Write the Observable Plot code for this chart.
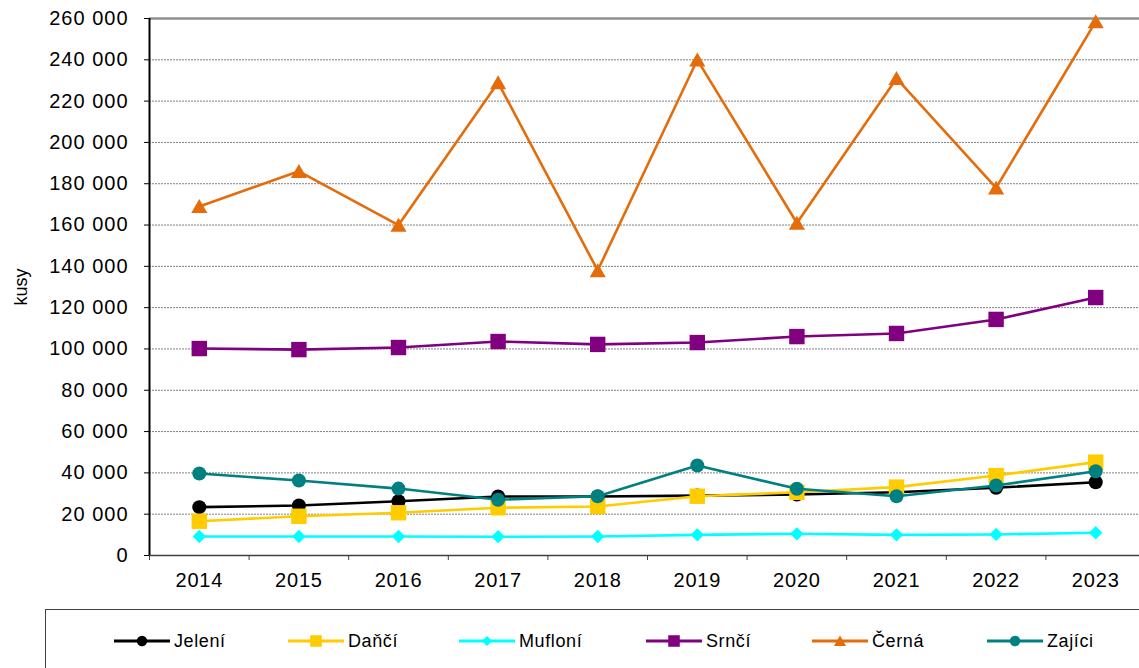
<!DOCTYPE html>
<html><head><meta charset="utf-8">
<script src="https://cdn.jsdelivr.net/npm/d3@7"></script>
<script src="https://cdn.jsdelivr.net/npm/@observablehq/plot@0.6"></script>
<style>
body{margin:0;overflow:hidden;background:#fff;font-family:"Liberation Sans",Arial,sans-serif;width:1139px;height:668px;position:relative;}
#chart{position:absolute;left:0;top:0;}
#chart svg{max-width:none !important;}
#chart g[aria-label="y-axis tick label"] text{letter-spacing:1px;}
#chart g[aria-label="x-axis tick label"] text{letter-spacing:0.8px;}
#legend{position:absolute;left:45px;top:609px;width:1105px;height:80px;border:1px solid #404040;box-sizing:border-box;background:#fff;}
.item{position:absolute;top:20px;height:22px;display:flex;align-items:center;font-size:18px;letter-spacing:0.6px;color:#000;}
.item svg{display:block;margin-right:4px;}
</style></head><body><div id="chart"></div><div id="legend"></div>
<script>
const years = [2014, 2015, 2016, 2017, 2018, 2019, 2020, 2021, 2022, 2023];
const jeleni  = [23400, 24200, 26300, 28600, 28600, 29000, 29500, 30600, 32800, 35500];
const danci   = [16600, 19000, 20700, 23100, 23700, 28700, 30600, 33100, 38700, 45200];
const mufloni = [9200, 9200, 9200, 9100, 9200, 10000, 10500, 10000, 10200, 11000];
const srnci   = [100200, 99700, 100700, 103600, 102200, 103100, 106000, 107500, 114300, 124900];
const cerna   = [169000, 186000, 160000, 229000, 138000, 240000, 161000, 231000, 178000, 258500];
const zajici  = [39700, 36300, 32400, 27000, 28700, 43600, 32300, 28700, 33900, 40800];
const seriesNames = ["Jelení", "Daňčí", "Mufloní", "Srnčí", "Černá", "Zajíci"];
const yTicks = [0, 20000, 40000, 60000, 80000, 100000, 120000, 140000, 160000, 180000, 200000, 220000, 240000, 260000];
const yLabel = "kusy";

const seriesValues = [jeleni, danci, mufloni, srnci, cerna, zajici];
const styles = [
  {color: "#000000", symbol: "circle", r: 7, dy: 0},
  {color: "#FFCC00", symbol: "square", r: 8.7, dy: 0},
  {color: "#00FFFF", symbol: "diamond2", r: 6, dy: 0},
  {color: "#800080", symbol: "square", r: 8.7, dy: 0},
  {color: "#E46C0A", symbol: "triangle", r: 6, dy: 2},
  {color: "#008080", symbol: "circle", r: 7, dy: 0}
];

const boundaries = years.map(y => y - 0.5).concat([years[years.length - 1] + 0.5]);
const fmt = d => d3.format(",")(d).replace(/,/g, " ");

const marks = [
  Plot.ruleY(yTicks.slice(1, -1), {stroke: "#808080", strokeWidth: 1, strokeDasharray: "2,1"}),
  Plot.ruleY([yTicks[yTicks.length - 1]], {stroke: "#909090", strokeWidth: 2.5}),
  Plot.ruleY([0], {stroke: "#404040", strokeWidth: 1.5}),
  Plot.ruleX([boundaries[0]], {stroke: "#000", strokeWidth: 2}),
  Plot.axisY({ticks: yTicks, tickFormat: fmt, tickSize: 5, tickPadding: 16, fontSize: 20, label: null}),
  Plot.axisX({ticks: years, tickFormat: d => String(d), tickSize: 0, tickPadding: 17, fontSize: 20, label: null}),
  Plot.axisX({ticks: boundaries, tickFormat: () => "", tickSize: 5, stroke: "#404040", label: null}),
  Plot.text([yLabel], {frameAnchor: "left", dx: -128, rotate: -90, fontSize: 18, textAnchor: "middle"})
];
seriesValues.forEach((vals, i) => {
  const data = years.map((y, j) => ({year: y, value: vals[j]}));
  const s = styles[i];
  marks.push(Plot.line(data, {x: "year", y: "value", stroke: s.color, strokeWidth: 2.6}));
  marks.push(Plot.dot(data, {x: "year", y: "value", fill: s.color, stroke: "none", symbol: s.symbol, r: s.r, dy: s.dy}));
});

const chart = Plot.plot({
  width: 1145,
  height: 605,
  marginLeft: 149,
  marginRight: 0,
  marginTop: 18,
  marginBottom: 50,
  style: {fontFamily: '"Liberation Sans", Arial, sans-serif', fontSize: "20px", color: "#000", background: "#fff", overflow: "visible", maxWidth: "none"},
  x: {domain: [boundaries[0], boundaries[boundaries.length - 1]], axis: null},
  y: {domain: [0, 260000], axis: null},
  marks
});
chart.style.maxWidth = "none";
document.getElementById("chart").appendChild(chart);

// legend
const legend = document.getElementById("legend");
const lx = [68, 242, 413, 600, 766, 941];
seriesNames.forEach((name, i) => {
  const s = styles[i];
  const item = document.createElement("div");
  item.className = "item";
  item.style.left = lx[i] + "px";
  const sym = {circle: d3.symbolCircle, square: d3.symbolSquare, diamond2: d3.symbolDiamond2, triangle: d3.symbolTriangle}[s.symbol];
  const size = Math.PI * Math.pow(s.r * 0.75, 2);
  const svg = d3.create("svg").attr("width", 56).attr("height", 22);
  svg.append("line").attr("x1", 0).attr("x2", 56).attr("y1", 11).attr("y2", 11).attr("stroke", s.color).attr("stroke-width", 3);
  svg.append("path").attr("d", d3.symbol(sym, size)()).attr("transform", `translate(28,${11 + s.dy * 0.7})`).attr("fill", s.color);
  item.appendChild(svg.node());
  const t = document.createElement("span");
  t.textContent = name;
  item.appendChild(t);
  legend.appendChild(item);
});
</script>
</body></html>
